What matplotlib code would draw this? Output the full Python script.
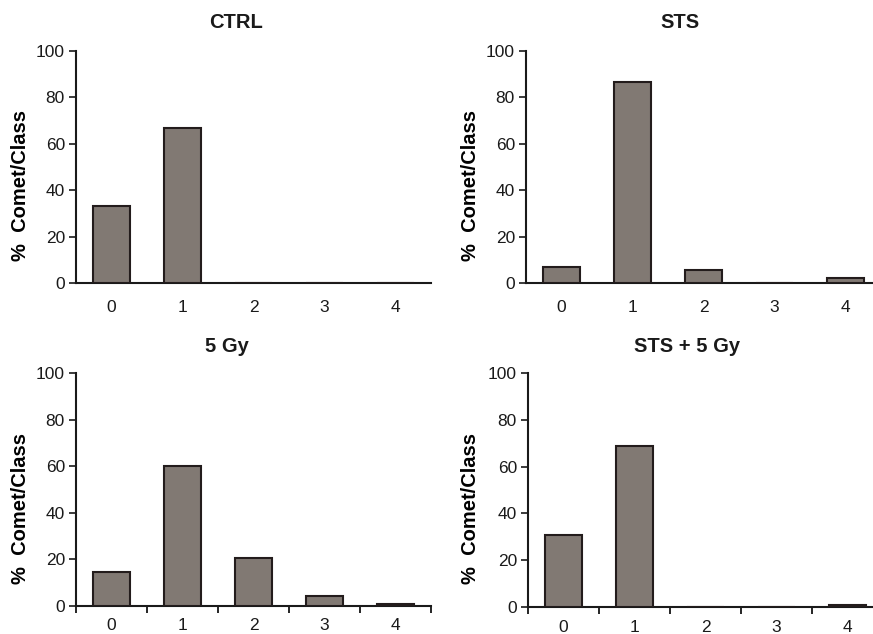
import matplotlib.pyplot as plt
import numpy as np

plt.rcParams['font.family'] = ['Liberation Sans', 'DejaVu Sans']

classes = ["0", "1", "2", "3", "4"]
titles = ["CTRL", "STS", "5 Gy", "STS + 5 Gy"]
ctrl = [33.3, 66.7, 0, 0, 0]
sts = [6.7, 86.7, 5.6, 0, 2.2]
gy5 = [14.5, 60.0, 20.5, 4.4, 1.0]
sts_gy5 = [30.8, 69.0, 0, 0, 1.0]
series = [ctrl, sts, gy5, sts_gy5]

W, H = 873, 634
fig = plt.figure(figsize=(W / 100, H / 100), dpi=100)

# axes boxes in pixels: left, top(100), right, bottom(0)
boxes = [(76, 51, 431, 283), (526, 51, 881, 283),
         (76, 373, 431, 606), (528, 373, 883, 607)]
title_x = [236, 680, 227, 687]
title_y = [22, 347]
ylab_x = [30, 480, 30, 480]

x = np.arange(len(classes))
for i, (vals, box) in enumerate(zip(series, boxes)):
    l, t, r, b = box
    ax = fig.add_axes([l / W, 1 - b / H, (r - l) / W, (b - t) / H])
    ax.bar(x, vals, width=0.52, color='#817973', edgecolor='#231c1c', linewidth=1.5, zorder=3)
    ax.set_xlim(-0.5, 4.5)
    ax.set_ylim(0, 100)
    ax.set_yticks([0, 20, 40, 60, 80, 100])
    ax.set_xticks(x)
    ax.set_xticklabels(classes)
    for s in ['top', 'right']:
        ax.spines[s].set_visible(False)
    for s in ['left', 'bottom']:
        ax.spines[s].set_linewidth(1.5)
        ax.spines[s].set_color('#1a1a1a')
    ax.tick_params(axis='y', length=5, width=1.2, labelsize=12.5, colors='#1a1a1a', pad=3)
    ax.tick_params(axis='x', length=0, labelsize=12.5, colors='#1a1a1a',
                   pad=12 if i < 2 else 9)
    if i >= 2:
        ax.set_xticks(np.arange(-0.5, 5, 1), minor=True)
        ax.tick_params(axis='x', which='minor', length=5, width=1.2, direction='out')
    ax.set_ylabel("%  Comet/Class", fontsize=14.5, fontweight='bold')
    ax.yaxis.set_label_coords((ylab_x[i] - l) / (r - l), 0.42)
    fig.text(title_x[i] / W, 1 - title_y[i // 2] / H, titles[i], ha='center', va='center',
             fontsize=14.5, fontweight='bold', color='#1a1a1a')

fig.savefig("out.png", dpi=100)
